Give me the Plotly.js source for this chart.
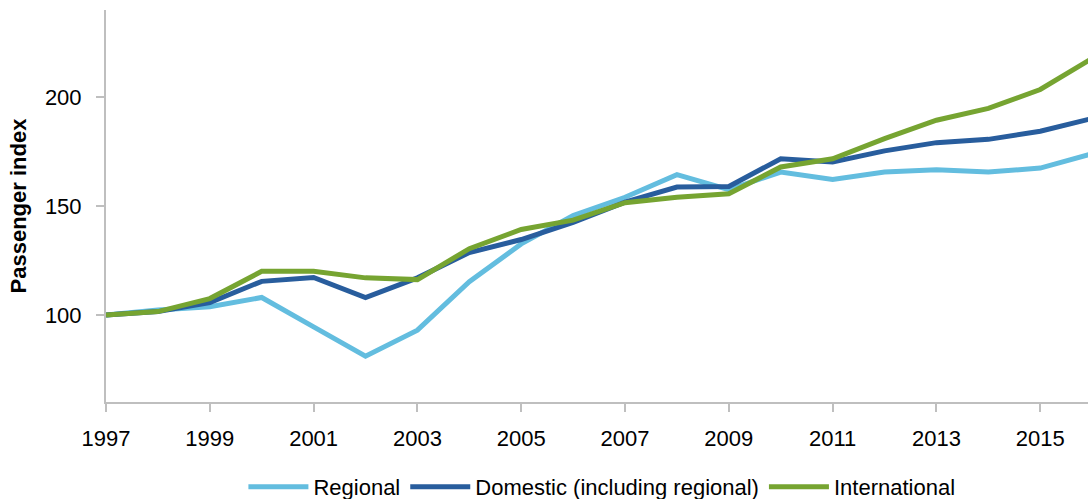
<!DOCTYPE html>
<html>
<head>
<meta charset="utf-8">
<script src="https://cdn.plot.ly/plotly-3.0.1.min.js"></script>
<style>
html,body{margin:0;padding:0;background:#fff;overflow:hidden;}
#chart{width:1088px;height:499px;}
</style>
</head>
<body>
<div id="chart"></div>
<script>
var years = [1997,1998,1999,2000,2001,2002,2003,2004,2005,2006,2007,2008,2009,2010,2011,2012,2013,2014,2015,2016];
var regional = [100,102.3,103.7,108,94.5,81,93,115.2,132.6,145.6,154,164.4,157.5,165.6,162.2,165.6,166.7,165.6,167.4,174];
var domestic = [100,101.5,105.7,115.4,117.2,108,117,128.6,134.6,142.5,151.8,158.7,159,171.7,170.2,175.3,179.1,180.6,184.3,190.2];
var international = [100,101.5,107.5,120,120,117,116.2,130.4,139.2,143.5,151.5,154,155.6,167.9,171.7,180.9,189.4,194.8,203.5,217.8];
var seriesNames = ['Regional','Domestic (including regional)','International'];
var yTicks = [100,150,200];
var xTicks = [1997,1999,2001,2003,2005,2007,2009,2011,2013,2015];

var colors = ['#63BDDF','#285D9D','#76A431'];
var data = [regional, domestic, international].map(function(v,i){
  return {x: years, y: v, type:'scatter', mode:'lines', name: seriesNames[i],
          line:{color: colors[i], width:5}, hoverinfo:'skip'};
});

var layout = {
  width:1088, height:499,
  margin:{l:106, r:0, t:10, b:97, pad:0, autoexpand:false},
  paper_bgcolor:'#fff', plot_bgcolor:'#fff',
  font:{family:'"Liberation Sans", Arial, sans-serif', size:22, color:'#000'},
  showlegend:true,
  legend:{orientation:'h', x:0.505, xanchor:'center', yref:'container', y:0.024, yanchor:'middle',
          font:{size:22, color:'#000'}, traceorder:'normal', itemwidth:60},
  xaxis:{range:[1997, 2015.92], tickvals:xTicks, ticktext:xTicks.map(String),
         showgrid:false, zeroline:false, showline:true, linecolor:'#BFBFBF', linewidth:2,
         ticks:'outside', ticklen:8, tickwidth:2, tickcolor:'#BFBFBF', ticklabelstandoff:8,
         tickfont:{size:22, color:'#000'}},
  yaxis:{range:[60,240], tickvals:yTicks, ticktext:yTicks.map(String),
         showgrid:false, zeroline:false, showline:true, linecolor:'#BFBFBF', linewidth:2,
         ticks:'outside', ticklen:8, tickwidth:2, tickcolor:'#BFBFBF', ticklabelstandoff:10,
         tickfont:{size:22, color:'#000'},
         title:{text:'<b>Passenger index</b>', font:{size:22, color:'#000'}, standoff:12}}
};
Plotly.newPlot('chart', data, layout, {displayModeBar:false, staticPlot:true});
</script>
</body>
</html>
